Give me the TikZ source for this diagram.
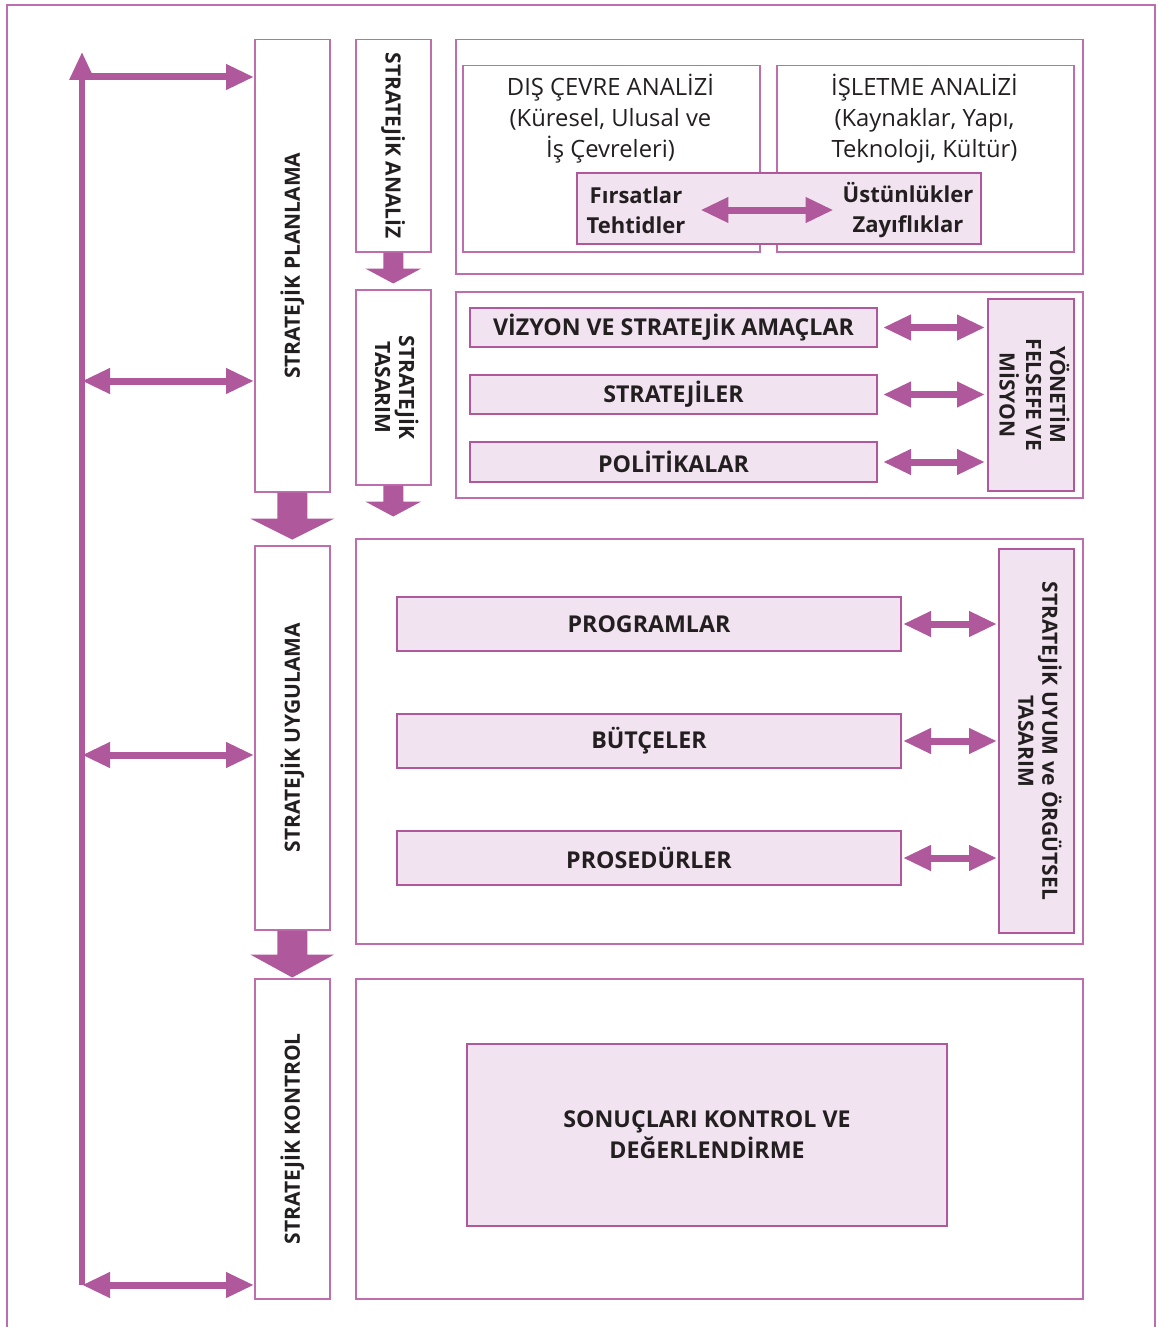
\documentclass[tikz,border=0pt]{standalone}
\usepackage{fontspec}
\setmainfont{Open Sans}
\usetikzlibrary{arrows.meta,calc}

\definecolor{plum}{RGB}{176,88,156}
\definecolor{plumline}{RGB}{190,110,175}
\definecolor{plumfill}{RGB}{241,228,240}
\definecolor{ink}{RGB}{35,31,32}

\newcommand{\boldtxt}{\bfseries\fontsize{21}{24}\selectfont}
\newcommand{\wideboldtxt}{\bfseries\fontsize{23.2}{31}\selectfont}
\newcommand{\regtxt}{\fontsize{23.8}{31}\selectfont}
\newcommand{\stack}[1]{\begin{tabular}{@{}c@{}}#1\end{tabular}}

% downward block arrow: start point, shaft half width, head half width, shaft length, head length
\newcommand{\blockdown}[5]{%
  \fill[plum] ($(#1)+(-#2,0)$) -- ($(#1)+(-#2,#4)$) -- ($(#1)+(-#3,#4)$)
    -- ($(#1)+(0,#4+#5)$) -- ($(#1)+(#3,#4)$) -- ($(#1)+(#2,#4)$)
    -- ($(#1)+(#2,0)$) -- cycle;}

\tikzset{
  headtip/.tip={Triangle[width=24pt,length=28pt]},
  frame/.style={draw=plumline, line width=1.5pt},
  box/.style={draw=plumline, line width=1.5pt, anchor=north west, inner sep=0pt,
    text=ink, font=\boldtxt},
  fbox/.style={box, fill=plumfill, draw=plum, line width=2pt},
  wbox/.style={fbox, font=\wideboldtxt},
  label/.style={text=ink, inner sep=0pt, align=center},
  dbl/.style={draw=plum, line width=7pt, headtip-headtip},
  sgl/.style={draw=plum, line width=7pt, -headtip},
  spine/.style={draw=plum, line width=6pt, -headtip},
}

\begin{document}
\begin{tikzpicture}[x=1pt,y=-1pt]
\useasboundingbox (0,0) rectangle (1157,1327);
\clip (0,0) rectangle (1157,1327);

% outer frame (open at the bottom)
\draw[frame] (7,1340) -- (7,5) -- (1155,5) -- (1155,1340);

% left column: the three stages
\node[box, minimum width=75pt, minimum height=452pt] (plan) at (254,39)
  {\rotatebox{90}{STRATEJİK PLANLAMA}};
\node[box, minimum width=75pt, minimum height=384pt] (impl) at (254,545)
  {\rotatebox{90}{STRATEJİK UYGULAMA}};
\node[box, minimum width=75pt, minimum height=320pt] (ctrl) at (254,978)
  {\rotatebox{90}{STRATEJİK KONTROL}};

% second column
\node[box, minimum width=75pt, minimum height=212pt] (analiz) at (355,39)
  {\rotatebox{-90}{STRATEJİK ANALİZ}};
\node[box, minimum width=75pt, minimum height=195pt] (tasarim) at (355,289)
  {\rotatebox{-90}{\stack{STRATEJİK\\TASARIM}}};

% block arrows between stages
\blockdown{plan.south}{15}{42}{26}{21}
\blockdown{impl.south}{15}{42}{24}{23}
\blockdown{analiz.south}{10}{28}{16}{15}
\blockdown{tasarim.south}{10}{28}{16}{15}

% analysis panel
\node[box, minimum width=627pt, minimum height=234pt] (panelA) at (455,39) {};
\node[box, minimum width=297pt, minimum height=186pt] (dis) at (462,65) {};
\node[box, minimum width=297pt, minimum height=186pt] (isl) at (776,65) {};
\node[label, font=\regtxt] (distxt) at (610.5,119)
  {DIŞ ÇEVRE ANALİZİ\\(Küresel, Ulusal ve\\İş Çevreleri)};
\node[label, font=\regtxt] (isltxt) at (924.5,119)
  {İŞLETME ANALİZİ\\(Kaynaklar, Yapı,\\Teknoloji, Kültür)};
\node[fbox, minimum width=404pt, minimum height=71pt] (swot) at (576,172) {};
\node[label, font=\bfseries\fontsize{22}{30}\selectfont] (ft) at (636,210)
  {Fırsatlar\\Tehtidler};
\node[label, font=\bfseries\fontsize{22}{30}\selectfont] (uz) at (908,210)
  {Üstünlükler\\Zayıflıklar};
\draw[dbl, shorten <=15pt, shorten >=9pt] (ft.east) -- (uz.west);

% design panel
\node[box, minimum width=627pt, minimum height=206pt] (panelB) at (455,291) {};
\node[wbox, minimum width=407pt, minimum height=39pt] (vizyon) at (469,307)
  {VİZYON VE STRATEJİK AMAÇLAR};
\node[wbox, minimum width=407pt, minimum height=39pt] (strat) at (469,374)
  {STRATEJİLER};
\node[wbox, minimum width=407pt, minimum height=40pt] (polit) at (469,441)
  {POLİTİKALAR};
\node[fbox, minimum width=86pt, minimum height=192pt] (yonetim) at (987,298)
  {\rotatebox{-90}{\stack{YÖNETİM\\FELSEFE VE\\MİSYON}}};
\draw[dbl, shorten <=5pt, shorten >=2pt] (vizyon.east) -- (vizyon.east -| yonetim.west);
\draw[dbl, shorten <=5pt, shorten >=2pt] (strat.east) -- (strat.east -| yonetim.west);
\draw[dbl, shorten <=5pt, shorten >=2pt] (polit.east) -- (polit.east -| yonetim.west);

% implementation panel
\node[box, minimum width=727pt, minimum height=405pt] (panelC) at (355,538) {};
\node[wbox, minimum width=504pt, minimum height=54pt] (prog) at (396,596)
  {PROGRAMLAR};
\node[wbox, minimum width=504pt, minimum height=54pt] (butce) at (396,713)
  {BÜTÇELER};
\node[wbox, minimum width=504pt, minimum height=54pt] (prosed) at (396,830)
  {PROSEDÜRLER};
\node[fbox, minimum width=75pt, minimum height=384pt] (uyum) at (998,548)
  {\rotatebox{-90}{\stack{STRATEJİK UYUM ve ÖRGÜTSEL\\TASARIM}}};
\draw[dbl, shorten <=1pt, shorten >=1pt] (prog.east) -- (prog.east -| uyum.west);
\draw[dbl, shorten <=1pt, shorten >=1pt] (butce.east) -- (butce.east -| uyum.west);
\draw[dbl, shorten <=1pt, shorten >=1pt] (prosed.east) -- (prosed.east -| uyum.west);

% control panel
\node[box, minimum width=727pt, minimum height=320pt] (panelD) at (355,978) {};
\node[wbox, minimum width=480pt, minimum height=182pt, align=center] (sonuc) at (466,1043)
  {SONUÇLARI KONTROL VE\\DEĞERLENDİRME};

% feedback spine on the left
\coordinate (spinebot) at (82,1285);
\coordinate (spinetop) at (82,52);
\coordinate (sp1) at (82,77);
\coordinate (sp2) at (82,381);
\coordinate (sp3) at (82,755);
\draw[spine] (spinebot) -- (spinetop);
\draw[sgl] (sp1) -- (sp1 -| plan.west);
\draw[dbl] (sp2) -- (sp2 -| plan.west);
\draw[dbl] (sp3) -- (sp3 -| impl.west);
\draw[dbl] (spinebot) -- (spinebot -| ctrl.west);
\end{tikzpicture}
\end{document}
